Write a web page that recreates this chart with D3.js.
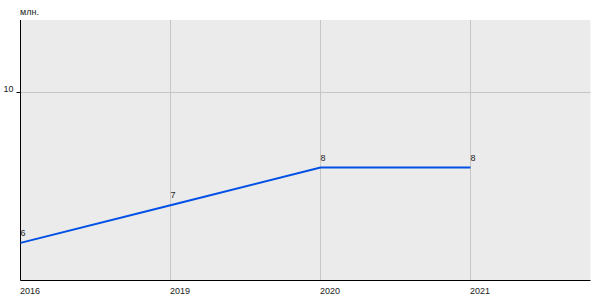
<!DOCTYPE html>
<html lang="ru">
    <head>
        <meta charset="UTF-8">
        <title>млн.</title>
        <style>
            body { margin: 0; background: #fff; }
            svg text { font-family: 'Liberation Sans', Arial, sans-serif; font-size: 9px; fill: #222; }
        </style>
    </head>
    <body>
        <div id="chart"></div>
        <script src="https://cdn.jsdelivr.net/npm/d3@7/dist/d3.min.js"></script>
        <script>
            // data
            var years  = ['2016', '2019', '2020', '2021'];
            var values = [6, 7, 8, 8];
            var yTicks = [10];
            var unit   = 'млн.';

            var w = 600, h = 300;
            var plotL = 20.5, plotR = 590.5, plotT = 20, plotB = 280.5;

            const svg = d3.select('#chart').append('svg').attr('width', w).attr('height', h);

            // index scale, leaves empty room after the last year
            var x = d3.scaleLinear().domain([0, 3.8]).range([plotL, plotR]);
            var y = d3.scaleLinear().domain([5, 11.92]).range([plotB, plotT]);

            svg.append('rect')
                .attr('x', plotL).attr('y', plotT)
                .attr('width', plotR - plotL).attr('height', plotB - plotT)
                .style('fill', '#ebebeb');

            // grid
            svg.append('g').selectAll('line').data(years).join('line')
                .attr('x1', (d, i) => x(i)).attr('x2', (d, i) => x(i))
                .attr('y1', plotT).attr('y2', plotB)
                .style('stroke', '#c6c6c6').style('stroke-width', 1);
            svg.append('g').selectAll('line').data(yTicks).join('line')
                .attr('x1', plotL).attr('x2', plotR)
                .attr('y1', d => Math.round(y(d)) + 0.5).attr('y2', d => Math.round(y(d)) + 0.5)
                .style('stroke', '#c6c6c6').style('stroke-width', 1);

            // y axis
            const yAxis = svg.append('g').attr('transform', 'translate(' + plotL + ',0)')
                .call(d3.axisLeft(y).tickValues(yTicks).tickFormat(d3.format('d'))
                    .tickSize(4).tickPadding(3).tickSizeOuter(0));
            yAxis.select('.domain').attr('d', 'M0,' + plotT + 'V' + plotB).style('stroke', '#000');
            yAxis.selectAll('.tick line').style('stroke', '#000');
            yAxis.selectAll('.tick').attr('transform', d => 'translate(0,' + (Math.round(y(d)) + 0.5) + ')');
            yAxis.selectAll('text').attr('font-family', null).attr('font-size', null)
                .attr('dy', '-0.1em').style('fill', '#222');

            // x axis
            svg.append('line')
                .attr('x1', plotL).attr('x2', plotR)
                .attr('y1', plotB).attr('y2', plotB)
                .style('stroke', '#000').style('stroke-width', 1);
            svg.append('g').selectAll('text').data(years).join('text')
                .attr('x', (d, i) => x(i) - 0.5).attr('y', 294)
                .text(d => d);

            svg.append('text').attr('x', 20).attr('y', 15).text(unit);

            // line
            var line = d3.line().x((d, i) => x(i)).y(d => y(d));
            svg.append('path').datum(values)
                .attr('d', line)
                .style('fill', 'none').style('stroke', '#0050e6').style('stroke-width', 2);

            svg.append('g').selectAll('text').data(values).join('text')
                .attr('x', (d, i) => x(i)).attr('y', d => y(d) - 7)
                .text(d => d);
        </script>
    </body>
</html>
